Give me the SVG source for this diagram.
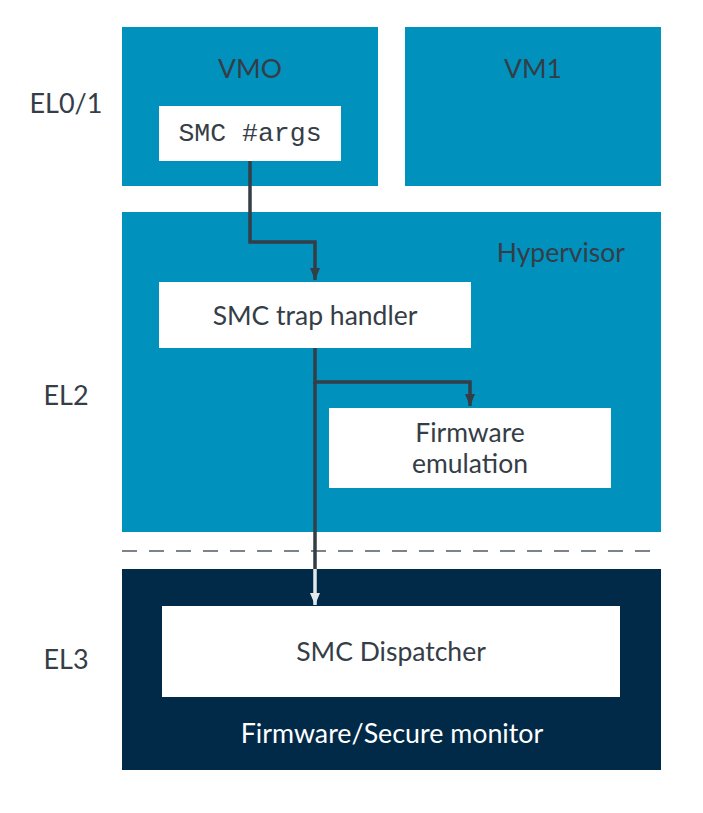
<svg xmlns="http://www.w3.org/2000/svg" width="703" height="813" viewBox="0 0 703 813">
<style>
.blue{fill:#0091bd;}
.navy{fill:#002a48;}
.wbox{fill:#ffffff;}
.t{font-family:Lato,"Noto Sans","Liberation Sans",sans-serif;font-size:26.5px;fill:#353d47;text-anchor:middle;}
.tw{font-family:Lato,"Noto Sans","Liberation Sans",sans-serif;font-size:26.8px;fill:#ffffff;text-anchor:middle;}
.mono{font-family:"Liberation Mono","DejaVu Sans Mono",monospace;font-size:26.5px;fill:#353d47;text-anchor:middle;}
.lab{font-family:Lato,"Noto Sans","Liberation Sans",sans-serif;font-size:27px;fill:#353d47;text-anchor:middle;}
.ln{fill:none;stroke:#353d47;stroke-width:3.5;}
.lnl{fill:none;stroke:#e3e8ea;stroke-width:3.5;}
</style>
<defs>
<marker id="ah" viewBox="0 0 12 10" refX="12" refY="5" markerWidth="12" markerHeight="10" markerUnits="userSpaceOnUse" orient="auto">
<path d="M0,0 L12,5 L0,10 Z" fill="#353d47"/>
</marker>
<marker id="ahl" viewBox="0 0 12 10" refX="12" refY="5" markerWidth="12" markerHeight="10" markerUnits="userSpaceOnUse" orient="auto">
<path d="M0,0 L12,5 L0,10 Z" fill="#e3e8ea"/>
</marker>
</defs>
<rect width="703" height="813" fill="#ffffff"/>
<g id="labels">
<text class="lab" x="66" y="113">EL0/1</text>
<text class="lab" x="66" y="405">EL2</text>
<text class="lab" x="66" y="669">EL3</text>
</g>
<g id="vm0">
<rect class="blue" x="122" y="27" width="256" height="159"/>
<text class="t" x="250" y="78">VMO</text>
</g>
<g id="smc-args">
<rect class="wbox" x="159" y="106" width="182" height="55"/>
<text class="mono" x="250" y="141">SMC #args</text>
</g>
<g id="vm1">
<rect class="blue" x="405" y="27" width="256" height="159"/>
<text class="t" x="533" y="78">VM1</text>
</g>
<g id="hypervisor">
<rect class="blue" x="122" y="212" width="539" height="320"/>
<text class="t" x="625" y="262" style="text-anchor:end">Hypervisor</text>
</g>
<g id="smc-trap-handler">
<rect class="wbox" x="159" y="282" width="312" height="66"/>
<text class="t" x="315" y="325">SMC trap handler</text>
</g>
<g id="firmware-emulation">
<rect class="wbox" x="329" y="408" width="282" height="80"/>
<text class="t" x="470" y="442">Firmware</text>
<text class="t" x="470" y="473">emulation</text>
</g>
<line x1="122" y1="551" x2="661" y2="551" stroke="#7c838b" stroke-width="2" stroke-dasharray="15,12"/>
<g id="firmware-secure-monitor">
<rect class="navy" x="122" y="569" width="539" height="201"/>
<text class="tw" x="392" y="743">Firmware/Secure monitor</text>
</g>
<g id="smc-dispatcher">
<rect class="wbox" x="162" y="606" width="458" height="91"/>
<text class="t" x="391" y="661">SMC Dispatcher</text>
</g>
<g id="connectors">
<path class="ln" d="M250,161 V242 H315 V280" marker-end="url(#ah)"/>
<path class="ln" d="M315,348 V382 H470 V406" marker-end="url(#ah)"/>
<path class="ln" d="M315,382 V569"/>
<path class="lnl" d="M315,569 V605" marker-end="url(#ahl)"/>
</g>
</svg>
